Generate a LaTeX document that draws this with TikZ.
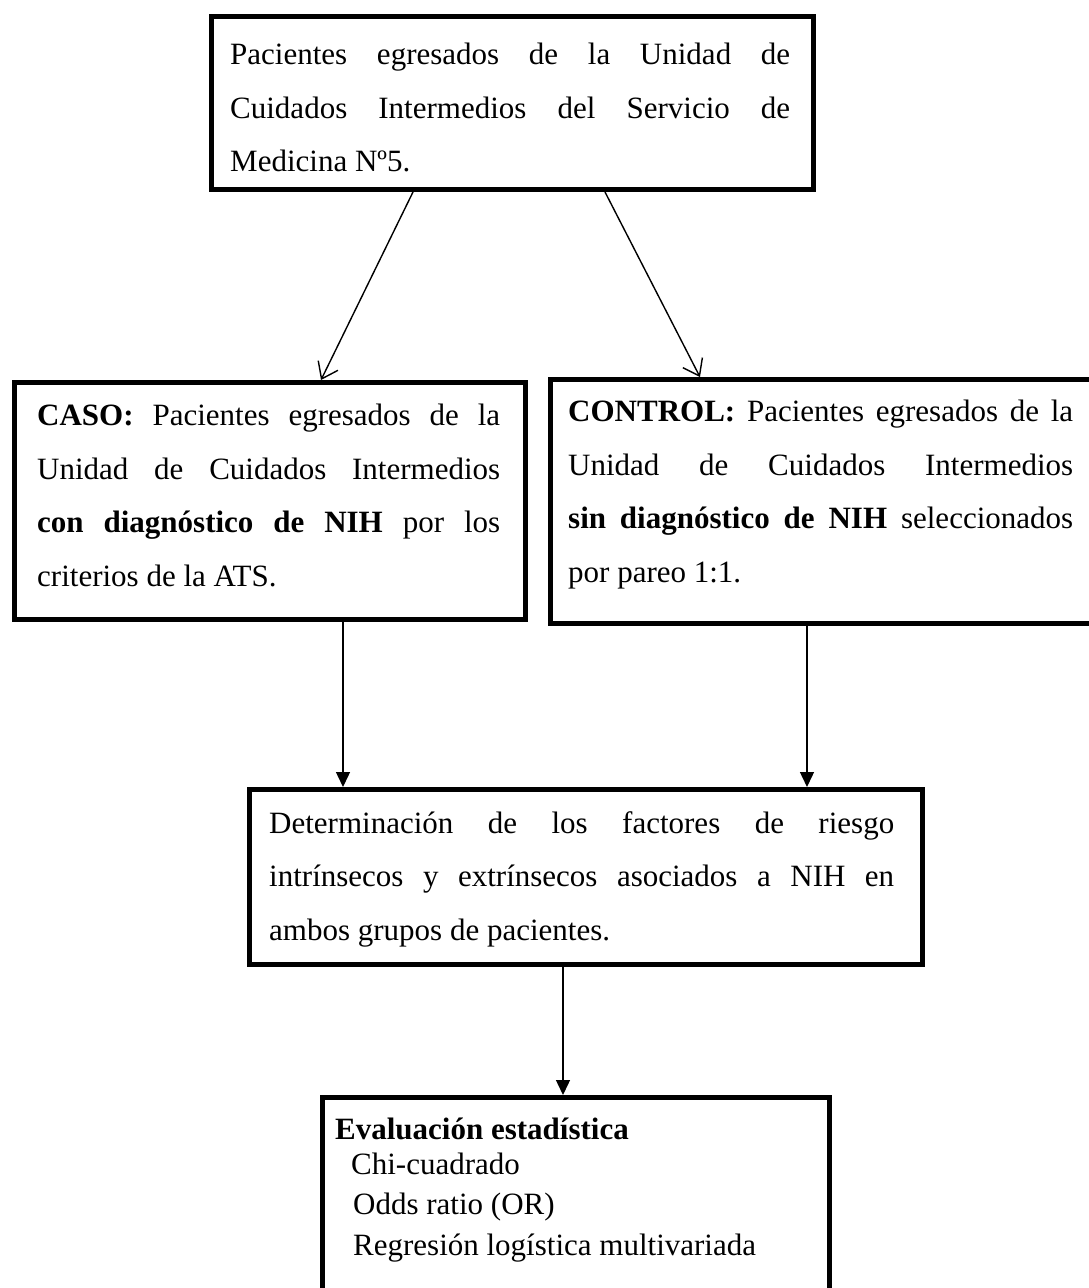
\documentclass[tikz,border=0pt]{standalone}
\usepackage{fontspec}
\setmainfont{Liberation Serif}
\usetikzlibrary{arrows.meta,calc}
\tikzset{
  boxnode/.style={draw=black, line width=5pt, rectangle, anchor=north west, inner sep=0pt},
  txt/.style={anchor=north west, inner sep=0pt, align=justify, font=\fontsize{31}{53.5}\selectfont},
  barbarrow/.style={line width=1.4pt, -{Straight Barb[length=15pt,width=22pt,line width=1.4pt]}},
  triarrow/.style={line width=1.4pt, -{Triangle[length=15pt,width=14pt]}}
}
\begin{document}
\begin{tikzpicture}[x=1pt,y=-1pt]
\useasboundingbox (0,0) rectangle (1089,1288);
\clip (0,0) rectangle (1089,1288);
% boxes
\node[boxnode, minimum width=602pt, minimum height=173pt] (top) at (209,14) {};
\node[boxnode, minimum width=511pt, minimum height=237pt] (caso) at (12,380) {};
\node[boxnode, minimum width=600pt, minimum height=244pt] (control) at (548,377) {};
\node[boxnode, minimum width=673pt, minimum height=175pt] (det) at (247,787) {};
\node[boxnode, minimum width=507pt, minimum height=260pt] (eval) at (320,1095) {};
% texts
\node[txt, text width=560pt] (ttop) at (230,43) {Pacientes egresados de la Unidad de\linebreak Cuidados Intermedios del Servicio de\linebreak Medicina Nº5.};
\node[txt, text width=463pt] (tcaso) at (37,404) {\textbf{CASO:} Pacientes egresados de la\linebreak Unidad de Cuidados Intermedios\linebreak \textbf{con diagnóstico de NIH} por los\linebreak criterios de la ATS.};
\node[txt, text width=505pt] (tcontrol) at (568,400) {\textbf{CONTROL:} Pacientes egresados de la\linebreak Unidad de Cuidados Intermedios\linebreak \textbf{sin diagnóstico de NIH} seleccionados\linebreak por pareo 1:1.};
\node[txt, text width=625pt] (tdet) at (269,811) {Determinación de los factores de riesgo\linebreak intrínsecos y extrínsecos asociados a NIH en\linebreak ambos grupos de pacientes.};
\node[txt, align=left, font=\fontsize{31}{38}\selectfont] (teval) at (335,1118) {\textbf{Evaluación estadística}\\[-3pt]
\hspace*{16pt}Chi-cuadrado\\[2pt]
\hspace*{18pt}Odds ratio (OR)\\[3pt]
\hspace*{18pt}Regresión logística multivariada};
% connectors
\coordinate (s1) at ($(top.south west)+(204,0)$);
\coordinate (e1) at ($(caso.north west)+(309,0)$);
\coordinate (s2) at ($(top.south west)+(396,0)$);
\coordinate (e2) at ($(control.north west)+(152,0)$);
\draw[barbarrow] (s1) -- (e1);
\draw[barbarrow] (s2) -- (e2);
\coordinate (c1) at ($(caso.south west)+(331,0)$);
\coordinate (c2) at ($(control.south west)+(259,0)$);
\coordinate (c3) at ($(det.south west)+(316,0)$);
\draw[triarrow] (c1) -- (c1 |- det.north);
\draw[triarrow] (c2) -- (c2 |- det.north);
\draw[triarrow] (c3) -- (c3 |- eval.north);
\end{tikzpicture}
\end{document}
